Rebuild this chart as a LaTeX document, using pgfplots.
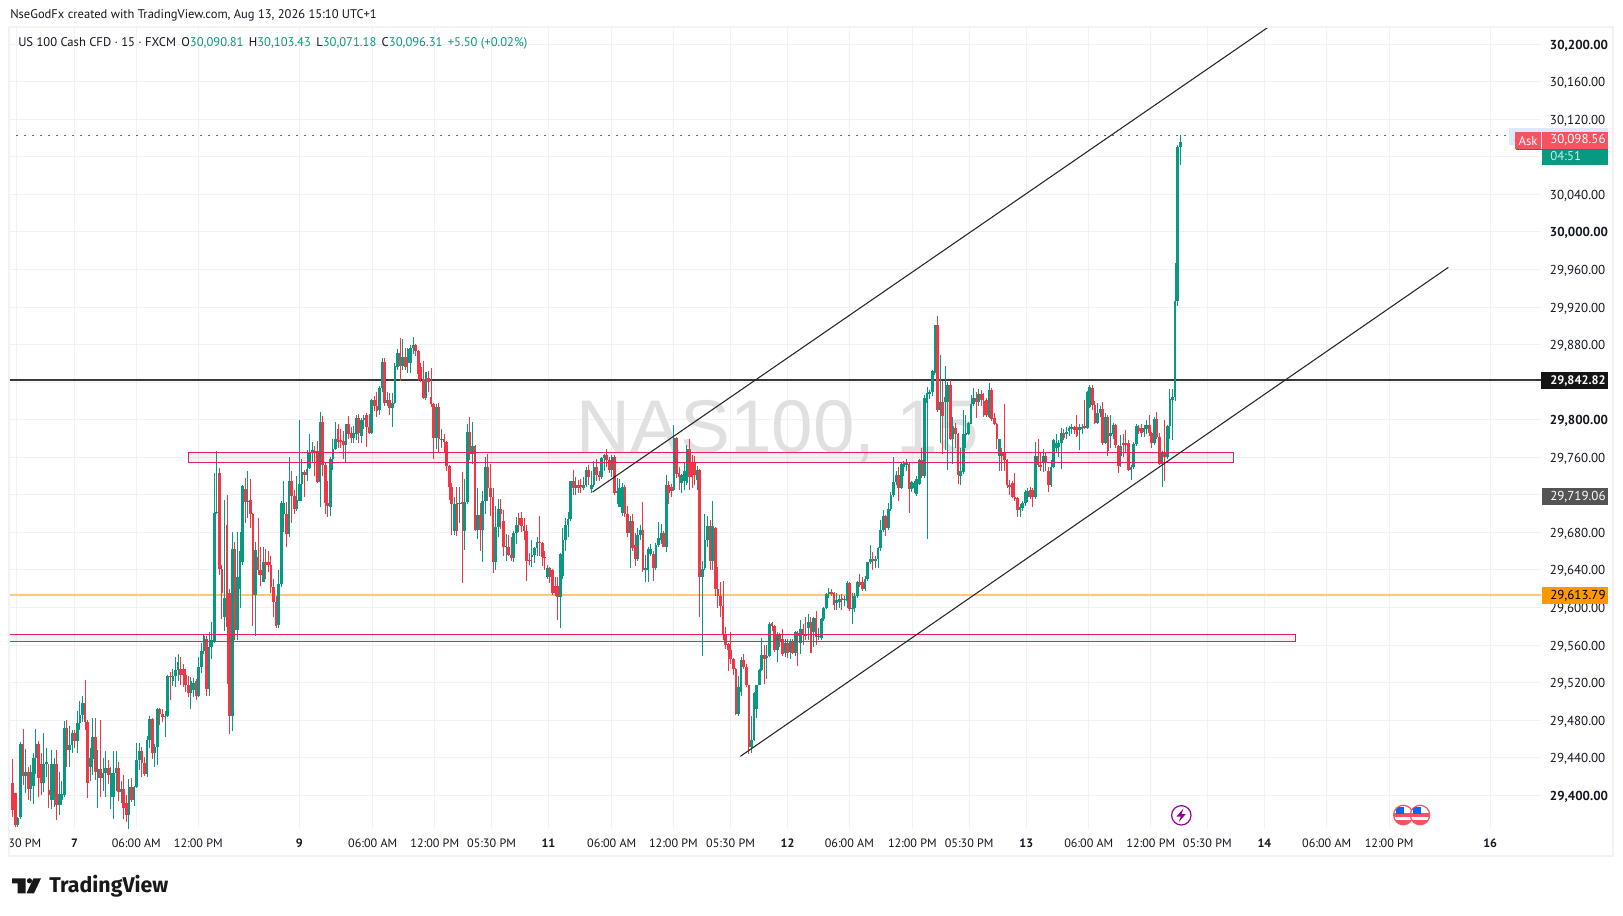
\documentclass[border=0pt]{standalone}
\usepackage{pgfplots}
\usepackage{pgfplotstable}
\usepackage{fontspec}
\pgfplotsset{compat=1.18}
\setmainfont{PT Sans}
\newfontfamily\logofont{Fira Sans}
\newfontfamily\wmfont{Liberation Sans}
\definecolor{up}{HTML}{089981}
\definecolor{dn}{HTML}{F23645}
\definecolor{gridc}{HTML}{F0F1F3}
\definecolor{framec}{HTML}{F2F2F3}
\definecolor{txt}{HTML}{131722}
\definecolor{zone}{HTML}{E91E63}
\definecolor{orangeL}{HTML}{FFC87A}
\definecolor{orangeB}{HTML}{FF9800}
\definecolor{askr}{HTML}{F7525F}
\definecolor{hib}{HTML}{DDE8FB}
\pgfplotstableread{
i o h l c
0 29413 29439 29377 29384
1 29402 29403 29366 29368
2 29368 29377 29366 29376
3 29377 29457 29375 29455
4 29455 29471 29411 29421
5 29421 29449 29403 29425
6 29425 29430 29395 29407
7 29407 29432 29394 29425
8 29410 29445 29391 29440
9 29440 29471 29423 29455
10 29455 29458 29398 29418
11 29433 29445 29400 29413
12 29413 29466 29404 29433
13 29433 29450 29420 29436
14 29406 29433 29387 29400
15 29395 29448 29385 29433
16 29395 29440 29388 29433
17 29433 29448 29374 29390
18 29390 29425 29379 29401
19 29395 29415 29390 29401
20 29400 29479 29398 29472
21 29472 29480 29430 29448
22 29448 29474 29430 29454
23 29454 29470 29445 29466
24 29466 29470 29450 29458
25 29458 29490 29445 29477
26 29477 29500 29470 29486
27 29486 29506 29478 29498
28 29498 29523 29470 29478
29 29478 29480 29397 29413
30 29430 29450 29415 29440
31 29439 29482 29422 29462
32 29462 29482 29416 29425
33 29418 29448 29386 29428
34 29428 29480 29398 29418
35 29418 29440 29405 29424
36 29424 29447 29398 29429
37 29429 29438 29412 29422
38 29398 29430 29385 29424
39 29398 29447 29375 29424
40 29424 29447 29405 29429
41 29429 29436 29394 29404
42 29404 29415 29392 29407
43 29407 29422 29375 29386
44 29392 29400 29372 29379
45 29379 29417 29363 29409
46 29409 29418 29393 29395
47 29395 29410 29389 29409
48 29409 29456 29408 29438
49 29438 29456 29427 29447
50 29447 29452 29420 29434
51 29434 29441 29421 29423
52 29423 29463 29420 29459
53 29459 29485 29450 29481
54 29481 29482 29439 29445
55 29445 29455 29430 29452
56 29452 29493 29432 29492
57 29492 29493 29475 29487
58 29487 29492 29478 29483
59 29483 29490 29462 29484
60 29484 29528 29483 29527
61 29527 29531 29501 29526
62 29522 29535 29516 29527
63 29527 29547 29515 29534
64 29534 29550 29522 29542
65 29535 29547 29518 29528
66 29535 29540 29515 29528
67 29528 29535 29510 29518
68 29518 29527 29505 29509
69 29509 29526 29492 29522
70 29512 29525 29505 29520
71 29522 29524 29502 29506
72 29506 29547 29505 29537
73 29537 29562 29530 29554
74 29554 29572 29550 29570
75 29566 29570 29506 29513
76 29513 29574 29506 29558
77 29558 29585 29545 29565
78 29564 29743 29562 29701
79 29701 29767 29700 29702
80 29743 29749 29635 29641
81 29641 29645 29588 29615
82 29590 29715 29575 29610
83 29688 29720 29519 29579
84 29615 29620 29465 29485
85 29485 29680 29468 29662
86 29662 29670 29565 29576
87 29576 29680 29565 29633
88 29620 29680 29600 29660
89 29648 29730 29645 29729
90 29726 29738 29690 29712
91 29712 29745 29695 29714
92 29715 29737 29685 29700
93 29700 29701 29580 29613
94 29613 29670 29570 29661
95 29654 29695 29635 29640
96 29640 29665 29623 29635
97 29627 29665 29627 29648
98 29648 29662 29630 29645
99 29648 29660 29638 29645
100 29645 29655 29615 29622
101 29622 29630 29590 29606
102 29606 29612 29578 29580
103 29581 29640 29578 29625
104 29625 29713 29622 29711
105 29700 29735 29680 29711
106 29700 29712 29665 29678
107 29678 29760 29675 29735
108 29735 29745 29690 29719
109 29719 29725 29700 29705
110 29705 29740 29703 29715
111 29714 29800 29713 29732
112 29732 29758 29713 29744
113 29744 29746 29718 29741
114 29741 29768 29735 29748
115 29749 29785 29748 29766
116 29766 29776 29755 29768
117 29767 29772 29740 29765
118 29767 29777 29733 29734
119 29734 29808 29707 29798
120 29798 29804 29740 29752
121 29752 29755 29700 29711
122 29711 29735 29696 29708
123 29707 29760 29698 29758
124 29758 29780 29747 29769
125 29769 29798 29768 29780
126 29790 29796 29770 29776
127 29778 29790 29770 29776
128 29777 29788 29758 29773
129 29773 29796 29755 29795
130 29795 29804 29780 29785
131 29786 29792 29775 29781
132 29781 29793 29775 29786
133 29785 29805 29778 29802
134 29802 29806 29775 29786
135 29783 29802 29775 29800
136 29800 29805 29790 29802
137 29805 29807 29771 29792
138 29792 29806 29785 29786
139 29786 29822 29785 29821
140 29821 29825 29809 29815
141 29815 29830 29803 29809
142 29810 29836 29805 29834
143 29834 29866 29830 29862
144 29862 29866 29815 29818
145 29818 29830 29815 29821
146 29821 29828 29805 29812
147 29812 29828 29792 29818
148 29818 29860 29817 29857
149 29856 29875 29853 29871
150 29871 29887 29841 29857
151 29857 29886 29853 29867
152 29867 29876 29853 29856
153 29860 29876 29850 29875
154 29860 29880 29850 29876
155 29876 29888 29870 29880
156 29880 29881 29868 29873
157 29873 29874 29841 29849
158 29856 29860 29840 29843
159 29843 29863 29822 29823
160 29823 29851 29821 29851
161 29845 29852 29830 29840
162 29824 29855 29814 29817
163 29817 29818 29758 29781
164 29781 29817 29769 29814
165 29814 29818 29766 29779
166 29779 29790 29770 29780
167 29780 29785 29765 29776
168 29776 29777 29745 29751
169 29751 29752 29715 29728
170 29728 29733 29677 29710
171 29681 29718 29677 29710
172 29711 29728 29676 29682
173 29710 29728 29690 29711
174 29712 29744 29626 29710
175 29681 29737 29661 29712
176 29712 29796 29710 29787
177 29787 29803 29757 29763
178 29763 29798 29753 29772
179 29772 29773 29682 29683
180 29683 29727 29673 29699
181 29699 29711 29660 29683
182 29683 29724 29649 29714
183 29714 29760 29700 29750
184 29750 29763 29714 29727
185 29727 29753 29697 29718
186 29718 29727 29637 29648
187 29648 29708 29640 29686
188 29686 29716 29675 29705
189 29705 29716 29684 29700
190 29692 29704 29655 29665
191 29665 29678 29650 29666
192 29665 29677 29655 29656
193 29656 29675 29650 29653
194 29653 29681 29648 29679
195 29679 29696 29668 29688
196 29695 29701 29680 29688
197 29695 29702 29680 29687
198 29687 29695 29672 29681
199 29681 29688 29628 29650
200 29651 29658 29645 29650
201 29654 29672 29643 29656
202 29656 29665 29647 29663
203 29663 29675 29655 29670
204 29670 29697 29655 29669
205 29669 29670 29644 29654
206 29654 29660 29640 29653
207 29632 29645 29630 29642
208 29642 29643 29626 29633
209 29640 29641 29613 29615
210 29623 29633 29612 29615
211 29623 29633 29587 29611
212 29611 29658 29578 29657
213 29634 29685 29630 29672
214 29672 29695 29660 29688
215 29688 29702 29675 29694
216 29694 29735 29692 29735
217 29735 29747 29720 29727
218 29727 29739 29720 29730
219 29730 29736 29722 29727
220 29731 29737 29722 29728
221 29727 29739 29725 29730
222 29731 29750 29728 29747
223 29747 29752 29730 29739
224 29726 29745 29722 29730
225 29730 29756 29728 29750
226 29750 29758 29735 29741
227 29741 29745 29735 29739
228 29739 29760 29737 29759
229 29759 29764 29745 29762
230 29762 29769 29750 29757
231 29757 29760 29743 29746
232 29746 29762 29739 29760
233 29760 29762 29720 29722
234 29722 29738 29710 29724
235 29707 29737 29707 29727
236 29701 29733 29698 29728
237 29728 29730 29696 29700
238 29700 29708 29675 29679
239 29679 29697 29642 29692
240 29692 29700 29660 29663
241 29667 29679 29644 29652
242 29652 29685 29650 29677
243 29677 29688 29672 29683
244 29683 29712 29638 29640
245 29640 29656 29627 29642
246 29640 29664 29627 29662
247 29657 29668 29655 29662
248 29657 29660 29628 29642
249 29642 29669 29640 29667
250 29667 29691 29665 29674
251 29672 29689 29668 29679
252 29679 29682 29664 29664
253 29664 29741 29659 29730
254 29730 29735 29710 29722
255 29728 29732 29718 29724
256 29725 29794 29724 29781
257 29781 29782 29738 29742
258 29743 29750 29725 29739
259 29733 29742 29722 29741
260 29735 29755 29725 29745
261 29733 29773 29731 29769
262 29769 29779 29725 29739
263 29754 29762 29727 29739
264 29754 29761 29730 29741
265 29736 29751 29725 29747
266 29747 29748 29590 29632
267 29632 29650 29548 29641
268 29642 29700 29640 29672
269 29672 29697 29665 29687
270 29687 29693 29640 29650
271 29650 29713 29640 29687
272 29685 29686 29612 29620
273 29620 29643 29600 29612
274 29612 29627 29590 29602
275 29602 29628 29565 29572
276 29572 29579 29556 29560
277 29561 29562 29532 29555
278 29555 29574 29540 29545
279 29545 29546 29528 29535
280 29535 29536 29486 29487
281 29487 29527 29484 29515
282 29510 29547 29506 29544
283 29544 29550 29535 29537
284 29537 29540 29515 29517
285 29517 29518 29444 29452
286 29452 29485 29445 29459
287 29459 29510 29458 29509
288 29492 29518 29482 29517
289 29517 29535 29517 29533
290 29533 29568 29532 29549
291 29549 29560 29519 29545
292 29546 29560 29524 29548
293 29548 29585 29547 29583
294 29584 29585 29575 29580
295 29580 29581 29553 29555
296 29555 29574 29542 29572
297 29572 29573 29558 29564
298 29566 29577 29548 29550
299 29552 29566 29547 29562
300 29562 29566 29546 29552
301 29553 29567 29545 29564
302 29564 29566 29550 29552
303 29552 29575 29548 29574
304 29573 29575 29538 29570
305 29562 29587 29550 29577
306 29577 29583 29560 29572
307 29572 29590 29565 29570
308 29578 29593 29565 29585
309 29585 29590 29552 29552
310 29574 29590 29558 29589
311 29589 29596 29560 29569
312 29569 29578 29565 29570
313 29568 29589 29565 29588
314 29588 29601 29586 29600
315 29600 29615 29598 29614
316 29614 29621 29610 29617
317 29617 29620 29612 29614
318 29615 29617 29597 29603
319 29605 29615 29597 29608
320 29606 29613 29600 29609
321 29610 29614 29597 29608
322 29608 29612 29602 29609
323 29607 29628 29600 29626
324 29626 29627 29596 29598
325 29598 29615 29582 29600
326 29599 29615 29595 29612
327 29612 29628 29610 29627
328 29627 29636 29622 29624
329 29627 29633 29618 29620
330 29620 29634 29618 29630
331 29630 29649 29628 29648
332 29648 29667 29646 29652
333 29652 29659 29640 29650
334 29650 29655 29642 29652
335 29652 29664 29642 29663
336 29663 29693 29660 29683
337 29683 29704 29680 29698
338 29698 29699 29676 29685
339 29685 29711 29683 29705
340 29705 29723 29703 29720
341 29720 29760 29718 29734
342 29734 29745 29730 29741
343 29741 29750 29714 29727
344 29727 29754 29726 29753
345 29750 29756 29740 29754
346 29752 29758 29745 29754
347 29753 29754 29701 29726
348 29726 29735 29723 29734
349 29727 29735 29722 29733
350 29721 29740 29719 29737
351 29732 29758 29730 29757
352 29757 29770 29738 29740
353 29740 29826 29738 29823
354 29818 29835 29673 29828
355 29827 29832 29822 29830
356 29830 29853 29825 29852
357 29850 29901 29848 29901
358 29901 29911 29808 29810
359 29810 29869 29775 29819
360 29819 29841 29764 29804
361 29819 29857 29768 29824
362 29819 29840 29747 29837
363 29837 29842 29778 29780
364 29779 29803 29753 29793
365 29791 29797 29770 29785
366 29785 29786 29732 29741
367 29740 29770 29731 29745
368 29744 29810 29742 29785
369 29784 29805 29770 29786
370 29785 29798 29784 29797
371 29796 29826 29795 29817
372 29817 29834 29815 29823
373 29823 29830 29802 29819
374 29819 29833 29815 29827
375 29827 29832 29815 29821
376 29820 29828 29803 29805
377 29821 29823 29803 29805
378 29803 29839 29802 29832
379 29832 29834 29799 29801
380 29802 29807 29794 29795
381 29796 29797 29769 29779
382 29761 29780 29745 29779
383 29765 29770 29745 29761
384 29765 29817 29745 29757
385 29757 29758 29727 29731
386 29731 29736 29720 29728
387 29733 29735 29717 29718
388 29718 29743 29714 29716
389 29717 29718 29696 29704
390 29704 29710 29696 29707
391 29706 29714 29703 29711
392 29711 29725 29708 29723
393 29718 29727 29712 29724
394 29725 29728 29716 29718
395 29725 29727 29707 29718
396 29718 29776 29716 29761
397 29761 29779 29750 29752
398 29752 29765 29745 29750
399 29754 29769 29744 29761
400 29761 29765 29745 29754
401 29745 29750 29723 29730
402 29730 29757 29728 29750
403 29750 29780 29749 29778
404 29770 29785 29765 29775
405 29771 29778 29760 29775
406 29775 29791 29748 29786
407 29786 29790 29778 29781
408 29785 29792 29780 29787
409 29788 29793 29783 29791
410 29790 29795 29785 29792
411 29792 29793 29785 29789
412 29792 29805 29782 29783
413 29789 29795 29768 29792
414 29790 29795 29785 29792
415 29793 29821 29790 29791
416 29791 29831 29790 29830
417 29814 29837 29812 29835
418 29834 29837 29810 29816
419 29816 29820 29795 29797
420 29797 29818 29795 29807
421 29807 29815 29803 29811
422 29811 29819 29773 29775
423 29775 29807 29774 29803
424 29803 29805 29761 29767
425 29783 29805 29770 29786
426 29785 29797 29780 29794
427 29794 29796 29770 29773
428 29772 29773 29743 29751
429 29761 29784 29750 29772
430 29775 29785 29760 29773
431 29775 29789 29765 29773
432 29775 29778 29745 29747
433 29746 29752 29736 29750
434 29750 29776 29748 29774
435 29774 29795 29772 29793
436 29791 29794 29785 29788
437 29791 29795 29782 29786
438 29787 29794 29782 29791
439 29790 29800 29785 29794
440 29794 29805 29783 29786
441 29786 29787 29770 29775
442 29775 29803 29773 29801
443 29801 29808 29780 29782
444 29782 29786 29752 29753
445 29753 29767 29728 29765
446 29765 29800 29735 29760
447 29760 29794 29758 29793
448 29793 29833 29779 29822
449 29821 29833 29778 29824
450 29824 29967 29820 29927
451 29927 30093 29921 30090
452 30090 30103 30071 30096
}\candles
\begin{document}
\begin{tikzpicture}[x=0.75pt,y=-0.75pt]
\path[use as bounding box,fill=white] (0,0) rectangle (1623,916);
\begin{axis}[
  at={(6.75pt,-621pt)},anchor=south west,scale only axis,
  width=1149pt,height=600.75pt,
  xmin=-1.43,xmax=591.67,ymin=29365.2,ymax=30218.3,
  axis line style={draw=none},major tick length=0pt,
  grid=major,major grid style={draw=gridc,line width=0.75pt},
  xtick={1.66,24,47.85,71.85,110.96,139.4,163.4,185.4,207.4,231.9,255.8,277.9,300,323.9,348.3,370.3,392.4,416.6,440.6,462.5,484.6,508.7,532.9,572},
  xticklabels={\phantom{05:}30 PM,\textbf{7},06:00 AM,12:00 PM,\textbf{9},06:00 AM,12:00 PM,05:30 PM,\textbf{11},06:00 AM,12:00 PM,05:30 PM,\textbf{12},06:00 AM,12:00 PM,05:30 PM,\textbf{13},06:00 AM,12:00 PM,05:30 PM,\textbf{14},06:00 AM,12:00 PM,\textbf{16}},
  ytick={29400,29440,29480,29520,29560,29600,29640,29680,29760,29800,29880,29920,29960,30000,30040,30120,30160,30200},
  yticklabels={\textbf{29,400.00},{29,440.00},{29,480.00},{29,520.00},{29,560.00},{29,600.00},{29,640.00},{29,680.00},{29,760.00},\textbf{29,800.00},{29,880.00},{29,920.00},{29,960.00},\textbf{30,000.00},{30,040.00},{30,120.00},{30,160.00},\textbf{30,200.00}},
  extra y ticks={29720,29840,30080},
  extra y tick labels={},
  extra y tick style={grid=major},
  yticklabel pos=right,
  scaled y ticks=false,
  xticklabel style={font=\fontsize{9.1}{11}\selectfont,text=txt,yshift=-4.5pt},
  yticklabel style={font=\fontsize{9.75}{11}\selectfont,text=txt,anchor=west,inner sep=0pt,xshift=6.5pt,yshift=-1pt},
]
\node[anchor=base west,inner sep=0pt,text=black!12,font=\wmfont\fontsize{56}{60}\selectfont] at (axis cs:218.3,29765) {NAS100, 15};
% price and level lines
\addplot[forget plot,draw=black!78,line width=1.5pt] coordinates {(-5,29842.82) (600,29842.82)};
\addplot[forget plot,draw=orangeL,line width=1.5pt] coordinates {(-5,29613.79) (600,29613.79)};
\addplot[forget plot,draw=black!60,line width=1.1pt,dash pattern=on 1.5pt off 4.5pt] coordinates {(-5,30102.5) (579,30102.5)};
% wicks
\addplot[forget plot,draw=none,mark=none,error bars/.cd,y dir=minus,y explicit,error mark=none,error bar style={draw=up,line width=0.75pt}] table[x=i,y expr={\thisrow{c}>=\thisrow{o} ? \thisrow{h} : nan},y error minus expr={\thisrow{h}-\thisrow{l}}] {\candles};
\addplot[forget plot,draw=none,mark=none,error bars/.cd,y dir=minus,y explicit,error mark=none,error bar style={draw=dn,line width=0.75pt}] table[x=i,y expr={\thisrow{c}<\thisrow{o} ? \thisrow{h} : nan},y error minus expr={\thisrow{h}-\thisrow{l}}] {\candles};
% bodies
\addplot[forget plot,draw=none,mark=none,error bars/.cd,y dir=minus,y explicit,error mark=none,error bar style={draw=up,line width=2pt}] table[x=i,y expr={\thisrow{c}>=\thisrow{o} ? \thisrow{c} : nan},y error minus expr={\thisrow{c}-\thisrow{o}}] {\candles};
\addplot[forget plot,draw=none,mark=none,error bars/.cd,y dir=minus,y explicit,error mark=none,error bar style={draw=dn,line width=2pt}] table[x=i,y expr={\thisrow{c}<\thisrow{o} ? \thisrow{o} : nan},y error minus expr={\thisrow{o}-\thisrow{c}}] {\candles};
% zones
\addplot[forget plot,draw=zone,line width=0.8pt,fill=black!70!red,fill opacity=0.05] coordinates {(67.98,29754) (472.5,29754) (472.5,29765) (67.98,29765)} --cycle;
\addplot[forget plot,draw=zone,line width=0.8pt,fill=black!70!red,fill opacity=0.05] coordinates {(-5,29563.6) (496.7,29563.6) (496.7,29571.5) (-5,29571.5)} --cycle;
% trend lines
\addplot[forget plot,draw=black!85,line width=0.8pt] coordinates {(224.5,29723) (486,30218)};
\addplot[forget plot,draw=black!85,line width=0.8pt] coordinates {(281.7,29441.5) (555.8,29962.3)};
\end{axis}
% frame
\draw[framec,line width=1.6pt] (9,26.7) rectangle (1612.7,856);
% header
\node[anchor=west,inner sep=0pt,text=txt,font=\fontsize{9.4}{11}\selectfont] at (10,15) {NseGodFx created with TradingView.com, Aug 13, 2026 15:10 UTC+1};
\node[anchor=west,inner sep=0pt,text=txt,font=\fontsize{9.45}{11}\selectfont] at (18,43) {US 100 Cash CFD · 15 · FXCM\hspace{4pt}O\textcolor{up}{30,090.81}\hspace{4pt}H\textcolor{up}{30,103.43}\hspace{4pt}L\textcolor{up}{30,071.18}\hspace{4pt}C\textcolor{up}{30,096.31}\hspace{4pt}\textcolor{up}{+5.50 (+0.02\%)}};
% price boxes
\fill[hib] (1509,128) rectangle (1608,145);
\fill[askr] (1515,132) rectangle (1541,149);
\fill[askr] (1542,132) rectangle (1608,149);
\draw[blue!70,line width=0.7pt] (1516,149.4) -- (1608,149.4);
\fill[up] (1542,149.7) rectangle (1608,165);
\node[text=white,inner sep=0pt,font=\fontsize{9.6}{11}\selectfont] at (1528,141) {Ask};
\node[text=white,inner sep=0pt,anchor=west,font=\fontsize{9.75}{11}\selectfont] at (1550,140) {30,098.56};
\node[text=white!80!up,inner sep=0pt,anchor=west,font=\fontsize{9.6}{11}\selectfont] at (1550,156) {04:51};
\fill[black!92] (1541,372) rectangle (1608,389);
\node[text=white,inner sep=0pt,anchor=west,font=\bfseries\fontsize{9.3}{11}\selectfont] at (1550,380.5) {29,842.82};
\fill[black!67] (1541.7,488) rectangle (1608,505);
\node[text=white,inner sep=0pt,anchor=west,font=\fontsize{9.75}{11}\selectfont] at (1550,496.5) {29,719.06};
\fill[orangeB] (1541.7,587) rectangle (1608,604);
\node[text=black,inner sep=0pt,anchor=west,font=\fontsize{9.75}{11}\selectfont] at (1550,595.5) {29,613.79};
% event icons
\draw[violet!80!magenta,line width=0.9pt,fill=white] (1181.3,815.3) circle [radius=9.7];
\fill[violet!80!magenta] (1183.5,808.5) -- (1176.5,816.5) -- (1180.8,816.5) -- (1178.8,822) -- (1185.8,814) -- (1181.5,814) -- cycle;
\foreach \cx in {1403.3,1420}{
 \begin{scope}
  \clip (\cx,815) circle [radius=9.7];
  \fill[white] (\cx-10,805) rectangle (\cx+10,825);
  \fill[askr] (\cx-10,813) rectangle (\cx+10,816.5);
  \fill[askr] (\cx-10,819.5) rectangle (\cx+10,825);
  \fill[blue!60!cyan] (\cx-7,806.5) rectangle (\cx+0.5,813.5);
 \end{scope}
 \draw[askr,line width=0.9pt] (\cx,815) circle [radius=9.7];
}
% logo
\fill[black!90] (12,878.3) -- (25.5,878.3) -- (25.5,893.3) -- (17.5,893.3) -- (17.5,883.3) -- (12,883.3) -- cycle;
\fill[black!90] (29.5,880.8) circle [radius=2.6];
\fill[black!90] (33.5,878.3) -- (41,878.3) -- (34,893.3) -- (26.5,893.3) -- cycle;
\node[anchor=west,inner sep=0pt,text=black!90,font=\logofont\bfseries\fontsize{16}{20}\selectfont] at (49,886.5) {TradingView};
\end{tikzpicture}
\end{document}
